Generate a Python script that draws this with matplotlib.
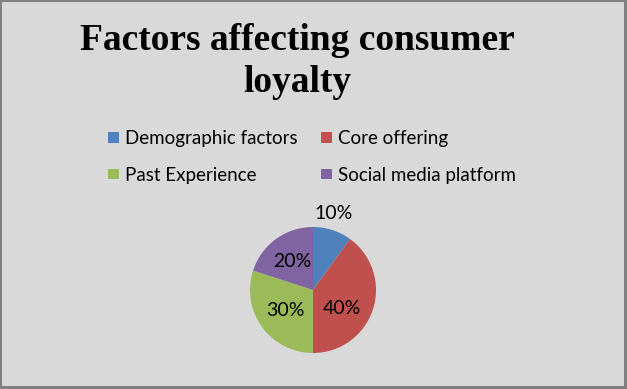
import matplotlib
matplotlib.use("Agg")
import matplotlib.pyplot as plt
from matplotlib.patches import Rectangle
import numpy as np

categories = ["Demographic factors", "Core offering", "Past Experience", "Social media platform"]
values = [10, 40, 30, 20]
colors = ["#4F81BD", "#C0504D", "#9BBB59", "#8064A2"]
title_lines = ["Factors affecting consumer", "loyalty"]

W, H = 627, 389
fig = plt.figure(figsize=(W / 100, H / 100), dpi=100)
fig.patch.set_facecolor("#D9D9D9")

# border (slightly heavier on right/bottom like the reference)
fig.patches.append(Rectangle((0, 0), 1, 1, transform=fig.transFigure, fill=False,
                             edgecolor="#808080", linewidth=2.2, zorder=10))
fig.patches.append(Rectangle((1 - 3 / W, 0), 3 / W, 1, transform=fig.transFigure,
                             facecolor="#808080", edgecolor="none", zorder=10))
fig.patches.append(Rectangle((0, 0), 1, 3 / H, transform=fig.transFigure,
                             facecolor="#808080", edgecolor="none", zorder=10))

for line, base in zip(title_lines, [50, 92]):
    fig.text(297 / W, 1 - base / H, line, ha="center", va="baseline",
             fontsize=27, fontweight="bold", family="Liberation Serif", color="black")

# pie axes
cx, cy, r = 313, 290, 63
ax = fig.add_axes([(cx - r) / W, 1 - (cy + r) / H, 2 * r / W, 2 * r / H])
wedges, texts, autotexts = ax.pie(values, colors=colors, startangle=90, counterclock=False,
                                  autopct="%1.0f%%", pctdistance=0.55, radius=1,
                                  textprops=dict(fontsize=14, family="Lato", color="black"))
ax.set_xlim(-1, 1)
ax.set_ylim(-1, 1)
ax.set_aspect("equal")
ax.axis("off")
# Excel-like label placement
autotexts[0].set_position((1.26 * np.cos(np.radians(75)), 1.26 * np.sin(np.radians(75))))
autotexts[1].set_position((0.54 * np.cos(np.radians(-32)), 0.54 * np.sin(np.radians(-32))))

# legend laid out row-wise like Excel
mx = [108, 321]
my = [137, 174]
ms = 11
for i, (lab, col) in enumerate(zip(categories, colors)):
    rrow, ccol = divmod(i, 2)
    x0, y0 = mx[ccol], my[rrow]
    fig.patches.append(Rectangle((x0 / W, 1 - (y0 + ms / 2) / H), ms / W, ms / H,
                                 transform=fig.transFigure, facecolor=col, edgecolor="none"))
    fig.text((x0 + ms + 6) / W, 1 - y0 / H, lab, ha="left", va="center_baseline",
             family="Lato", fontsize=13.5, color="black")

fig.savefig("out.png", dpi=100, facecolor=fig.get_facecolor())
